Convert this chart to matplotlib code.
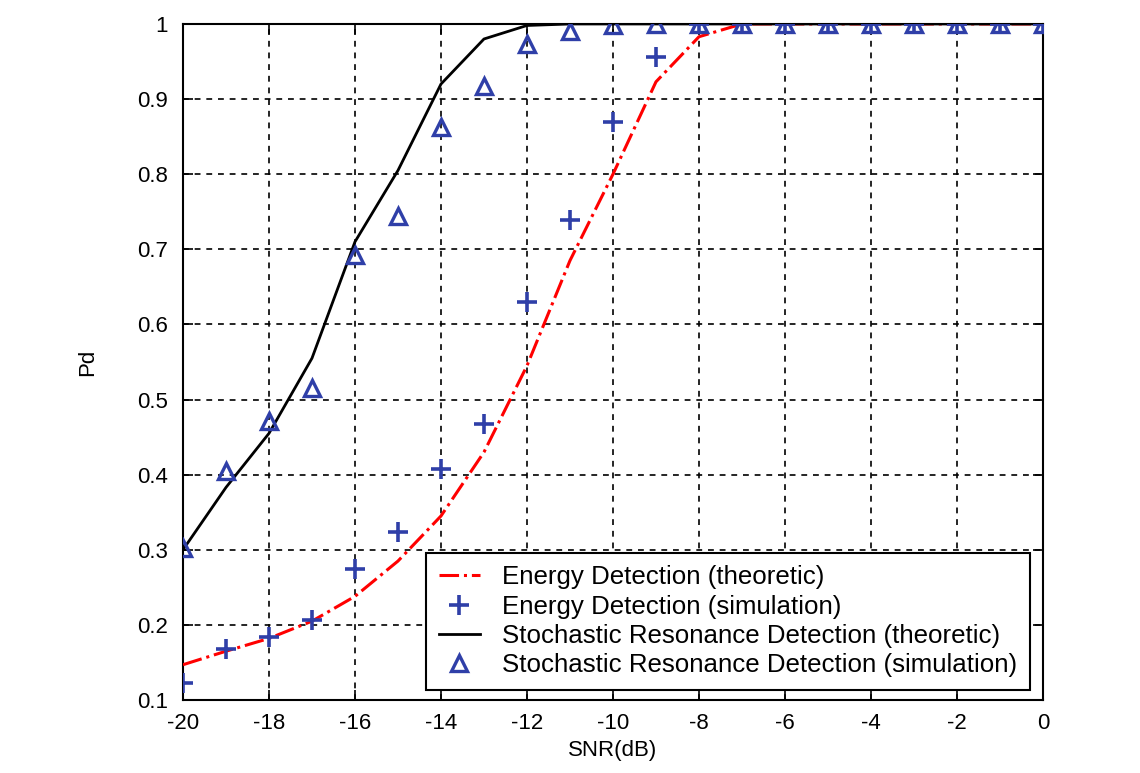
import numpy as np
import matplotlib.pyplot as plt

plt.rcParams['font.family'] = ['Liberation Sans', 'DejaVu Sans']

# SNR (dB)
snr = np.arange(-20, 1)

# Energy detection, theoretic
ed_theory = [0.147, 0.165, 0.182, 0.205, 0.238, 0.285, 0.345, 0.43, 0.545, 0.685,
             0.80, 0.923, 0.983, 1.0, 1.0, 1.0, 1.0, 1.0, 1.0, 1.0, 1.0]
# Energy detection, simulation
ed_sim = [0.123, 0.168, 0.184, 0.207, 0.274, 0.324, 0.408, 0.468, 0.63, 0.739,
          0.869, 0.956, 1.0, 1.0, 1.0, 1.0, 1.0, 1.0, 1.0, 1.0, 1.0]
# Stochastic resonance detection, theoretic
sr_theory = [0.30, 0.383, 0.455, 0.555, 0.71, 0.805, 0.92, 0.98, 0.998, 1.0,
             1.0, 1.0, 1.0, 1.0, 1.0, 1.0, 1.0, 1.0, 1.0, 1.0, 1.0]
# Stochastic resonance detection, simulation
sr_sim = [0.302, 0.405, 0.471, 0.516, 0.693, 0.745, 0.863, 0.917, 0.973, 0.99,
          0.999, 1.0, 1.0, 1.0, 1.0, 1.0, 1.0, 1.0, 1.0, 1.0, 1.0]

blue = '#2f3fa8'

fig = plt.figure(figsize=(11.4, 7.73), dpi=100)
ax = fig.add_axes([0.1605, 0.0944, 0.7544, 0.8746])

ax.plot(snr, ed_theory, color='red', linestyle='-.', linewidth=2.2,
        label='Energy Detection (theoretic)', zorder=3)
ax.plot(snr, ed_sim, linestyle='none', marker='+', color=blue, markersize=14,
        markeredgewidth=2.6, label='Energy Detection (simulation)', zorder=4)
ax.plot(snr, sr_theory, color='black', linewidth=2,
        label='Stochastic Resonance Detection (theoretic)', zorder=3)
ax.plot(snr, sr_sim, linestyle='none', marker='^', color=blue, markersize=12,
        markerfacecolor='none', markeredgewidth=2.4,
        label='Stochastic Resonance Detection (simulation)', zorder=5)

ax.set_xlim(-20, 0)
ax.set_ylim(0.1, 1.0)
ax.set_xticks(np.arange(-20, 1, 2))
ax.set_yticks(np.arange(0.1, 1.01, 0.1))
ax.set_xticklabels([str(v) for v in range(-20, 1, 2)])
ax.set_yticklabels(['0.1', '0.2', '0.3', '0.4', '0.5', '0.6', '0.7', '0.8', '0.9', '1'])
ax.tick_params(direction='in', length=7, width=1.2, labelsize=16,
               top=True, right=True)
ax.tick_params(axis='x', pad=9)
ax.tick_params(axis='y', pad=11)
ax.grid(True, color='black', linestyle=(0, (3.5, 3.5)), linewidth=1.2)
for s in ax.spines.values():
    s.set_linewidth(1.5)

ax.set_xlabel('SNR(dB)', fontsize=16, labelpad=5)
ax.set_ylabel('Pd', fontsize=16, labelpad=28)

leg = ax.legend(loc='lower right', bbox_to_anchor=(0.985, 0.015), fontsize=18.6,
                frameon=True, fancybox=False, framealpha=1, edgecolor='black',
                handlelength=1.6, handletextpad=0.85, borderpad=0.5,
                labelspacing=0.2, borderaxespad=0)
leg.get_frame().set_linewidth(1.5)

fig.savefig('out.png', dpi=100)
